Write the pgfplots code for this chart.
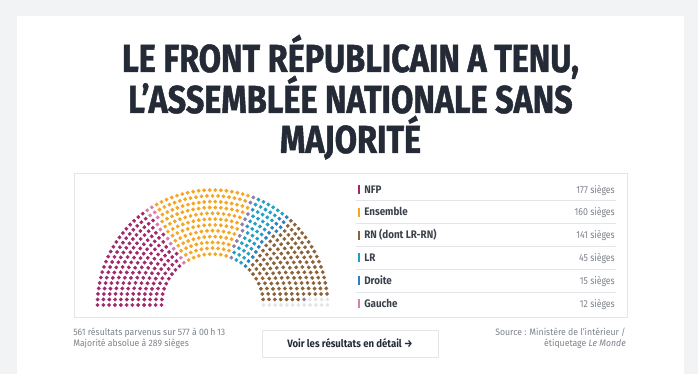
\documentclass[border=0pt]{standalone}
\usepackage{fontspec}
\setmainfont{Fira Sans}[FakeStretch=0.86]
\newfontfamily\titlef{Fira Sans}[FakeStretch=0.83,FakeBold=1.2]
\newfontfamily\namef{Fira Sans}[FakeStretch=0.9]
\newfontfamily\footf{Fira Sans}[FakeStretch=0.93]
\usepackage{pgfplots}
\pgfplotsset{compat=1.18}
\usepackage{pgfplotstable}
\definecolor{bg}{HTML}{F2F3F5}
\definecolor{ink}{HTML}{252B36}
\definecolor{cNFP}{HTML}{A0286C}
\definecolor{cGau}{HTML}{DA7DB3}
\definecolor{cEns}{HTML}{F5A623}
\definecolor{cRN}{HTML}{8C6239}
\definecolor{cLR}{HTML}{1FA0C6}
\definecolor{cDr}{HTML}{2C7FC2}
\definecolor{cDiv}{HTML}{8E80A8}
\definecolor{cNA}{HTML}{E4E5E9}
\definecolor{rulec}{HTML}{E3E5E8}
\definecolor{txt}{HTML}{3C424B}
\definecolor{subc}{HTML}{7D838B}

% seats: k = position of the seat in its row (0 = left end), r = row (0 = inner)
\pgfplotstableread[row sep=\\]{
k r\\
0 0\\1 0\\2 0\\3 0\\4 0\\5 0\\6 0\\7 0\\8 0\\
0 1\\1 1\\2 1\\3 1\\4 1\\5 1\\6 1\\7 1\\8 1\\9 1\\
0 2\\1 2\\2 2\\3 2\\4 2\\5 2\\6 2\\7 2\\8 2\\9 2\\10 2\\11 2\\
0 3\\1 3\\2 3\\3 3\\4 3\\5 3\\6 3\\7 3\\8 3\\9 3\\10 3\\11 3\\
0 4\\1 4\\2 4\\3 4\\4 4\\5 4\\6 4\\7 4\\8 4\\9 4\\10 4\\11 4\\12 4\\
0 5\\1 5\\2 5\\3 5\\4 5\\5 5\\6 5\\7 5\\8 5\\9 5\\10 5\\11 5\\12 5\\13 5\\
0 6\\1 6\\2 6\\3 6\\4 6\\5 6\\6 6\\7 6\\8 6\\9 6\\10 6\\11 6\\12 6\\13 6\\14 6\\15 6\\
0 7\\1 7\\2 7\\3 7\\4 7\\5 7\\6 7\\7 7\\8 7\\9 7\\10 7\\11 7\\12 7\\13 7\\14 7\\15 7\\
0 8\\1 8\\2 8\\3 8\\4 8\\5 8\\6 8\\7 8\\8 8\\9 8\\10 8\\11 8\\12 8\\13 8\\14 8\\15 8\\16 8\\
0 9\\1 9\\2 9\\3 9\\4 9\\5 9\\6 9\\7 9\\8 9\\9 9\\10 9\\11 9\\12 9\\13 9\\14 9\\15 9\\16 9\\17 9\\18 9\\
0 10\\1 10\\2 10\\3 10\\4 10\\5 10\\6 10\\7 10\\8 10\\9 10\\10 10\\11 10\\12 10\\13 10\\14 10\\15 10\\16 10\\17 10\\18 10\\
0 11\\1 11\\2 11\\3 11\\4 11\\5 11\\6 11\\7 11\\8 11\\9 11\\10 11\\11 11\\12 11\\13 11\\14 11\\15 11\\16 11\\17 11\\18 11\\19 11\\
}\tNFP

\pgfplotstableread[row sep=\\]{
k r\\
9 0\\10 1\\12 3\\13 4\\14 5\\16 7\\17 8\\19 9\\19 10\\20 10\\20 11\\21 11\\
}\tGau

\pgfplotstableread[row sep=\\]{
k r\\
10 0\\11 0\\12 0\\13 0\\14 0\\15 0\\16 0\\17 0\\
11 1\\12 1\\13 1\\14 1\\15 1\\16 1\\17 1\\18 1\\19 1\\
12 2\\13 2\\14 2\\15 2\\16 2\\17 2\\18 2\\19 2\\20 2\\21 2\\
13 3\\14 3\\15 3\\16 3\\17 3\\18 3\\19 3\\20 3\\21 3\\22 3\\23 3\\
14 4\\15 4\\16 4\\17 4\\18 4\\19 4\\20 4\\21 4\\22 4\\23 4\\24 4\\25 4\\
15 5\\16 5\\17 5\\18 5\\19 5\\20 5\\21 5\\22 5\\23 5\\24 5\\25 5\\26 5\\27 5\\
16 6\\17 6\\18 6\\19 6\\20 6\\21 6\\22 6\\23 6\\24 6\\25 6\\26 6\\27 6\\28 6\\29 6\\
17 7\\18 7\\19 7\\20 7\\21 7\\22 7\\23 7\\24 7\\25 7\\26 7\\27 7\\28 7\\29 7\\30 7\\31 7\\
18 8\\19 8\\20 8\\21 8\\22 8\\23 8\\24 8\\25 8\\26 8\\27 8\\28 8\\29 8\\30 8\\31 8\\32 8\\33 8\\
20 9\\21 9\\22 9\\23 9\\24 9\\25 9\\26 9\\27 9\\28 9\\29 9\\30 9\\31 9\\32 9\\33 9\\34 9\\35 9\\36 9\\
21 10\\22 10\\23 10\\24 10\\25 10\\26 10\\27 10\\28 10\\29 10\\30 10\\31 10\\32 10\\33 10\\34 10\\35 10\\36 10\\37 10\\
22 11\\23 11\\24 11\\25 11\\26 11\\27 11\\28 11\\29 11\\30 11\\31 11\\32 11\\33 11\\34 11\\35 11\\36 11\\37 11\\38 11\\39 11\\
}\tEns

\pgfplotstableread[row sep=\\]{
k r\\
18 0\\22 2\\24 3\\26 4\\28 5\\30 6\\32 7\\34 8\\38 10\\40 11\\51 7\\
}\tDiv

\pgfplotstableread[row sep=\\]{
k r\\
19 0\\20 0\\
20 1\\21 1\\22 1\\
23 2\\24 2\\25 2\\
25 3\\26 3\\27 3\\
27 4\\28 4\\29 4\\
29 5\\30 5\\31 5\\
31 6\\32 6\\33 6\\34 6\\
33 7\\34 7\\35 7\\36 7\\
35 8\\36 8\\37 8\\38 8\\
37 9\\38 9\\39 9\\40 9\\41 9\\
39 10\\40 10\\41 10\\42 10\\43 10\\
41 11\\42 11\\43 11\\44 11\\45 11\\46 11\\
}\tLR

\pgfplotstableread[row sep=\\]{
k r\\
21 0\\23 1\\26 2\\28 3\\30 4\\32 5\\35 6\\37 7\\39 8\\40 8\\42 9\\43 9\\44 10\\45 10\\47 11\\
}\tDr

\pgfplotstableread[row sep=\\]{
k r\\
22 0\\23 0\\24 0\\25 0\\26 0\\27 0\\28 0\\
24 1\\25 1\\26 1\\27 1\\28 1\\29 1\\30 1\\31 1\\
27 2\\28 2\\29 2\\30 2\\31 2\\32 2\\33 2\\34 2\\35 2\\
29 3\\30 3\\31 3\\32 3\\33 3\\34 3\\35 3\\36 3\\37 3\\38 3\\
31 4\\32 4\\33 4\\34 4\\35 4\\36 4\\37 4\\38 4\\39 4\\40 4\\41 4\\
33 5\\34 5\\35 5\\36 5\\37 5\\38 5\\39 5\\40 5\\41 5\\42 5\\43 5\\44 5\\
36 6\\37 6\\38 6\\39 6\\40 6\\41 6\\42 6\\43 6\\44 6\\45 6\\46 6\\47 6\\48 6\\
38 7\\39 7\\40 7\\41 7\\42 7\\43 7\\44 7\\45 7\\46 7\\47 7\\48 7\\49 7\\50 7\\
41 8\\42 8\\43 8\\44 8\\45 8\\46 8\\47 8\\48 8\\49 8\\50 8\\51 8\\52 8\\53 8\\
44 9\\45 9\\46 9\\47 9\\48 9\\49 9\\50 9\\51 9\\52 9\\53 9\\54 9\\55 9\\56 9\\57 9\\
46 10\\47 10\\48 10\\49 10\\50 10\\51 10\\52 10\\53 10\\54 10\\55 10\\56 10\\57 10\\58 10\\59 10\\60 10\\
48 11\\49 11\\50 11\\51 11\\52 11\\53 11\\54 11\\55 11\\56 11\\57 11\\58 11\\59 11\\60 11\\61 11\\62 11\\63 11\\
}\tRN

\pgfplotstableread[row sep=\\]{
k r\\
29 0\\32 1\\36 2\\39 3\\42 4\\45 5\\49 6\\52 7\\54 8\\55 8\\58 9\\59 9\\61 10\\62 10\\64 11\\65 11\\
}\tNA

% row r has round(28.93+3.3009 r)+1 seats on a half circle of radius 51+5.818 r
\newcommand\seats[2]{\addplot[only marks, color=#1, mark=*, mark size=1.35pt, mark options={draw=#1, fill=#1, line width=0.2pt}]
  table[x expr={-(51+5.818*\thisrow{r})*cos(180*\thisrow{k}/round(28.93+3.3009*\thisrow{r}))},
        y expr={(51+5.818*\thisrow{r})*sin(180*\thisrow{k}/round(28.93+3.3009*\thisrow{r}))}] {#2};}

\begin{document}
\begin{tikzpicture}[x=0.75pt,y=0.75pt]
\path[use as bounding box] (0,0) rectangle (698,374);
\fill[bg] (0,0) rectangle (698,374);
\fill[white] (17,-2) rectangle (684,358);
% title
\node[anchor=base, text=ink, font=\titlef\bfseries\fontsize{29.25}{30}\selectfont] at (350.5,302) {LE FRONT RÉPUBLICAIN A TENU,};
\node[anchor=base, text=ink, font=\titlef\bfseries\fontsize{29.25}{30}\selectfont] at (350.5,261) {L’ASSEMBLÉE NATIONALE SANS};
\node[anchor=base, text=ink, font=\titlef\bfseries\fontsize{29.25}{30}\selectfont] at (350.5,221) {MAJORITÉ};
% frame
\draw[rulec, line width=0.75pt] (74,56) rectangle (627,200);
% hemicycle
\begin{axis}[at={(92.5,65)}, anchor=south west, scale only axis, width=180pt, height=93pt,
  xmin=-120, xmax=120, ymin=-4, ymax=120, hide axis, clip=false]
\seats{cNFP}{\tNFP}
\seats{cGau}{\tGau}
\seats{cEns}{\tEns}
\seats{cDiv}{\tDiv}
\seats{cLR}{\tLR}
\seats{cDr}{\tDr}
\seats{cRN}{\tRN}
\seats{cNA}{\tNA}
\end{axis}
% legend
\foreach \y in {173.1,150.3,127.5,104.7,81.9} \draw[rulec, line width=0.75pt] (356,\y) -- (616,\y);
\foreach \c/\n/\v/\y in {cNFP/NFP/177/184.5, cEns/Ensemble/160/161.7, cRN/RN (dont LR-RN)/141/138.9, cLR/LR/45/116.1, cDr/Droite/15/93.3, cGau/Gauche/12/70.5}{
  \fill[\c] (357.5,\y-4.5) rectangle (359.8,\y+4.5);
  \node[anchor=base west, inner sep=0pt, text=txt, font=\namef\bfseries\fontsize{8.2}{9}\selectfont] at (364,\y-3.7) {\n};
  \node[anchor=base east, inner sep=0pt, text=subc, font=\fontsize{7.6}{9}\selectfont] at (615,\y-3.6) {\v\ sièges};
}
% footer
\node[anchor=base west, inner sep=0pt, text=subc, font=\footf\fontsize{7}{8}\selectfont] at (73,38) {561 résultats parvenus sur 577 à 00\,h\,13};
\node[anchor=base west, inner sep=0pt, text=subc, font=\footf\fontsize{7}{8}\selectfont] at (73,27.5) {Majorité absolue à 289 sièges};
\node[anchor=base east, inner sep=0pt, text=subc, font=\footf\fontsize{7}{8}\selectfont] at (626,38) {Source : Ministère de l’intérieur /};
\node[anchor=base east, inner sep=0pt, text=subc, font=\footf\fontsize{7}{8}\selectfont] at (626,27.5) {étiquetage \textit{Le Monde}};
\draw[rulec, fill=white, line width=0.75pt] (262,16) rectangle (438,43);
\node[anchor=base, inner sep=0pt, text=ink, font=\namef\bfseries\fontsize{8}{9}\selectfont] at (350,26.5) {Voir les résultats en détail →};
\end{tikzpicture}
\end{document}
